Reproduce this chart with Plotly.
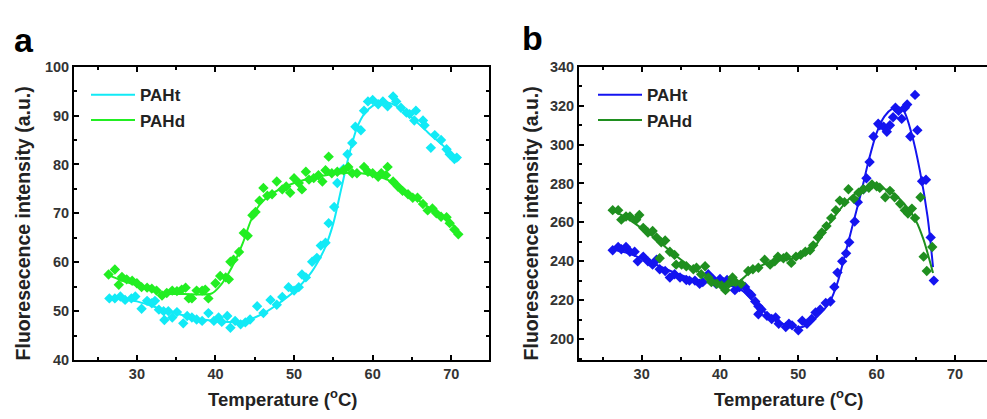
import plotly.graph_objects as go

# ---------------- Panel a data ----------------
a_t_T = [26.5, 27.2, 27.9, 28.5, 29.3, 29.8, 30.6, 31.3, 31.9, 32.3, 32.8, 33.4, 33.5, 34.0, 34.5,
         35.1, 35.9, 36.4, 37.0, 37.6, 38.3, 39.1, 39.8, 40.4, 40.8, 41.5, 41.9, 42.5, 43.2, 43.8,
         44.4, 45.3, 46.1, 47.0, 47.8, 48.5, 49.3, 50.0, 50.6, 51.0, 51.5, 52.3, 52.9, 53.4, 54.0,
         54.4, 55.1, 55.5, 56.3, 56.8, 57.4, 57.8, 58.5, 58.9, 59.4, 60.0, 60.7, 61.3, 61.9, 62.6,
         63.0, 63.6, 64.3, 64.7, 65.3, 65.5, 66.4, 66.6, 67.4, 67.9, 68.7, 69.4, 69.8, 70.4, 70.7]
a_t_I = [52.6, 52.6, 53.0, 52.3, 52.6, 53.0, 50.5, 52.1, 51.6, 52.1, 50.3, 50.0, 48.2, 50.0, 48.7,
         49.8, 47.5, 49.0, 48.7, 48.3, 48.0, 49.6, 48.0, 48.7, 47.8, 49.0, 46.6, 48.0, 47.3, 47.7,
         48.3, 51.0, 49.6, 52.3, 51.3, 52.9, 54.9, 54.2, 54.9, 57.5, 56.9, 60.1, 60.9, 63.4, 64.0,
         68.0, 71.3, 76.2, 79.1, 82.1, 84.4, 87.7, 87.0, 91.0, 92.9, 93.2, 92.3, 92.9, 91.9, 93.9,
         92.9, 91.6, 90.6, 90.3, 89.0, 91.0, 89.0, 88.0, 83.4, 86.0, 85.0, 83.1, 82.1, 81.1, 81.4]
a_t_fitT = [26.5, 28, 30, 32, 35, 38, 40, 42, 43.5, 45, 46.5, 48, 50, 52, 53, 54, 55, 56, 57,
            58, 59, 60, 61, 62, 63, 64, 65, 67, 69, 71]
a_t_fitI = [52.8, 52.5, 52.0, 51.0, 49.5, 48.4, 48.0, 47.8, 47.9, 48.7, 49.9, 51.5, 54.0, 57.5,
            60.0, 63.2, 68.0, 75.0, 82.0, 87.5, 90.5, 92.0, 92.6, 92.6, 92.0, 91.0, 89.6, 86.6,
            83.8, 80.8]

a_d_T = [26.4, 27.2, 27.7, 28.1, 28.7, 29.4, 30.0, 30.6, 31.3, 31.9, 32.5, 33.2, 33.8, 34.5, 35.1,
         35.7, 36.2, 36.6, 37.0, 37.6, 38.3, 38.7, 39.1, 40.0, 40.6, 41.3, 41.7, 41.9, 42.3, 43.0,
         43.6, 44.1, 44.7, 45.1, 45.6, 46.1, 46.6, 47.2, 47.8, 48.5, 49.0, 49.5, 50.0, 50.6, 51.0,
         51.5, 51.9, 52.5, 53.1, 53.6, 54.0, 54.4, 54.8, 55.5, 56.3, 56.9, 57.4, 58.0, 58.9, 59.4,
         60.0, 60.7, 61.1, 61.7, 61.9, 62.6, 63.2, 63.8, 64.5, 65.1, 65.7, 66.4, 67.0, 67.6, 68.1,
         68.7, 69.4, 69.8, 70.4, 70.9]
a_d_I = [57.5, 58.5, 55.4, 57.0, 56.5, 56.2, 55.7, 54.9, 54.8, 54.6, 54.2, 53.2, 53.7, 54.2, 54.1,
         54.4, 54.8, 52.6, 52.6, 54.2, 54.2, 54.4, 52.6, 55.7, 57.2, 56.9, 56.5, 60.1, 60.5, 62.1,
         66.0, 65.4, 69.6, 70.3, 72.6, 75.2, 73.6, 73.9, 76.5, 74.9, 75.5, 74.2, 77.2, 76.2, 74.9,
         78.5, 76.9, 77.2, 77.8, 76.5, 78.8, 81.6, 78.2, 78.5, 78.8, 79.5, 78.2, 78.2, 79.5, 78.5,
         78.2, 77.5, 78.2, 77.8, 79.5, 76.5, 75.5, 74.6, 73.9, 73.2, 73.2, 71.9, 70.6, 71.0, 70.0,
         69.3, 69.2, 68.0, 66.7, 65.7]
a_d_fitT = [26.5, 28, 30, 32, 33.5, 36, 39.5, 40.5, 41.5, 42.5, 43.5, 44.5, 45.5, 47, 50, 53,
            55, 57, 58, 60, 62, 64, 66, 68, 70, 71]
a_d_fitI = [57.3, 56.3, 55.3, 54.2, 53.6, 53.5, 53.6, 55.0, 57.3, 60.3, 64.0, 68.5, 71.5, 73.8,
            76.2, 77.5, 78.0, 78.3, 78.3, 77.8, 76.8, 74.8, 72.5, 70.2, 68.0, 66.2]

# ---------------- Panel b data ----------------
b_t_T = [26.3, 27.0, 27.4, 28.0, 28.5, 29.1, 29.5, 30.2, 30.8, 31.4, 31.9, 32.3, 33.0, 33.6, 34.2,
         34.9, 35.7, 36.1, 36.8, 37.4, 37.8, 38.5, 39.1, 39.5, 40.0, 40.4, 40.9, 41.3, 41.9, 42.5,
         43.2, 43.6, 44.0, 44.5, 44.9, 45.3, 44.9, 46.0, 46.6, 47.1, 47.5, 48.4, 48.8, 49.2, 50.0,
         50.5, 51.1, 51.7, 52.2, 52.8, 53.5, 54.1, 54.6, 55.0, 55.6, 56.1, 56.5, 57.2, 57.6, 58.3,
         58.7, 59.1, 59.6, 60.2, 60.4, 60.9, 61.3, 61.7, 62.1, 62.4, 62.8, 63.2, 63.6, 63.9, 64.3,
         64.9, 65.2, 65.8, 66.3, 66.9, 67.3]
b_t_I = [245.7, 247.4, 246.2, 247.4, 244.9, 244.9, 240.0, 242.4, 240.0, 238.3, 240.8, 235.9, 235.0,
         231.7, 233.4, 231.7, 230.4, 230.1, 230.1, 228.5, 229.3, 233.4, 230.9, 228.5, 230.9, 229.3,
         230.4, 229.3, 225.2, 226.8, 226.8, 224.3, 222.7, 219.4, 216.9, 215.3, 212.8, 212.0, 210.4,
         211.2, 207.9, 206.3, 207.9, 207.1, 204.6, 209.5, 207.9, 210.4, 213.7, 215.3, 218.6, 219.4,
         226.8, 234.2, 240.0, 244.1, 249.8, 260.5, 270.4, 277.0, 282.7, 291.0, 304.1, 310.7, 309.9,
         309.1, 306.6, 309.9, 314.0, 318.9, 317.3, 313.2, 318.9, 320.6, 304.1, 325.5, 307.4, 281.1,
         281.9, 252.3, 230.1]
b_t_fitT = [26.3, 28, 30, 32, 34, 36, 38, 40, 42, 43, 44, 45, 46, 47, 48, 49, 50, 51, 52, 53, 54,
            55, 56, 57, 58, 59, 60, 61, 62, 62.7, 63.5, 64.5, 65.5, 66.5, 67.2]
b_t_fitI = [246.5, 244.5, 241.5, 238.0, 234.5, 231.5, 229.5, 228.3, 226.8, 224.5, 220.5, 216.5,
            213.0, 210.2, 208.0, 206.6, 206.0, 207.0, 210.0, 214.0, 219.0, 229.0, 244.0, 259.5,
            275.0, 292.0, 306.0, 314.5, 318.5, 319.2, 317.0, 305.0, 287.0, 263.0, 237.0]

b_d_T = [26.3, 27.0, 27.4, 28.0, 28.5, 29.3, 29.7, 30.2, 30.8, 31.4, 31.9, 32.5, 33.0, 32.3, 33.6,
         34.2, 34.4, 35.1, 35.7, 36.6, 37.0, 37.6, 38.1, 38.5, 38.9, 39.6, 40.2, 40.7, 41.1, 41.6,
         42.0, 42.7, 43.6, 44.2, 44.9, 45.7, 46.4, 47.0, 47.4, 48.1, 48.5, 49.1, 49.7, 50.3, 50.9,
         51.5, 51.9, 52.5, 53.0, 53.6, 54.2, 54.8, 55.3, 55.9, 56.4, 57.1, 57.7, 58.3, 59.0, 59.4,
         60.0, 60.4, 61.1, 61.7, 62.3, 63.0, 63.6, 64.0, 64.5, 64.9, 65.6, 66.0, 66.4, 67.1]
b_d_I = [266.3, 266.3, 261.4, 263.0, 263.0, 261.4, 263.8, 257.2, 254.8, 255.6, 252.3, 249.8, 250.7,
         241.6, 244.9, 243.3, 238.3, 238.3, 237.5, 235.9, 236.7, 233.4, 237.5, 231.7, 229.3, 228.5,
         227.6, 225.2, 228.5, 231.7, 229.3, 228.5, 235.0, 235.9, 236.7, 240.8, 238.3, 240.0, 242.4,
         241.6, 242.4, 239.2, 242.4, 243.3, 244.9, 245.7, 248.2, 252.3, 254.8, 258.1, 262.2, 266.3,
         271.2, 270.4, 277.0, 272.1, 275.3, 277.0, 277.8, 279.5, 278.6, 277.8, 272.9, 276.2, 272.9,
         269.6, 266.3, 264.6, 267.1, 262.2, 272.9, 242.4, 235.0, 247.4]
b_d_fitT = [26.3, 28, 30, 32, 34, 36, 38, 40, 41, 42, 43, 44, 46, 48, 50, 51, 52, 53, 54, 55, 56,
            57, 58, 59, 60, 61, 62, 63, 64, 65, 66, 67, 67.2]
b_d_fitI = [266.0, 262.5, 257.0, 251.0, 244.0, 238.0, 233.0, 228.8, 227.5, 228.3, 231.5, 235.0,
            239.0, 240.7, 242.0, 243.6, 247.0, 253.0, 259.5, 265.0, 270.0, 274.0, 276.6, 278.0,
            278.2, 277.2, 275.2, 271.8, 267.2, 261.0, 251.0, 237.0, 234.0]

legend_names = ["PAHt", "PAHd"]
x_ticks = [30, 40, 50, 60, 70]
a_y_ticks = [40, 50, 60, 70, 80, 90, 100]
b_y_ticks = [200, 220, 240, 260, 280, 300, 320, 340]

C_CYAN = "#12EAF6"
C_LIME = "#22EE22"
C_BLUE = "#1414F0"
C_DGREEN = "#1F8F1F"

W, H = 987, 419
FONT = "Liberation Sans"

fig = go.Figure()

def add_series(T, I, fT, fI, color, name, xa, ya, leg):
    fig.add_trace(go.Scatter(x=T, y=I, mode="markers", xaxis=xa, yaxis=ya,
                             marker=dict(symbol="diamond", size=8, color=color),
                             showlegend=False, hoverinfo="skip"))
    fig.add_trace(go.Scatter(x=fT, y=fI, mode="lines", xaxis=xa, yaxis=ya, name=name,
                             line=dict(color=color, width=2, shape="spline", smoothing=0.8),
                             legend=leg))

add_series(a_t_T, a_t_I, a_t_fitT, a_t_fitI, C_CYAN, legend_names[0], "x", "y", "legend")
add_series(a_d_T, a_d_I, a_d_fitT, a_d_fitI, C_LIME, legend_names[1], "x", "y", "legend")
add_series(b_t_T, b_t_I, b_t_fitT, b_t_fitI, C_BLUE, legend_names[0], "x2", "y2", "legend2")
add_series(b_d_T, b_d_I, b_d_fitT, b_d_fitI, C_DGREEN, legend_names[1], "x2", "y2", "legend2")

tickfont = dict(family=FONT, size=14.5, color="#333333", weight="bold")

def ax_common(mirror):
    return dict(showline=True, linewidth=2, linecolor="black", mirror=mirror,
                ticks="inside", ticklen=5, tickwidth=2, tickcolor="black",
                showgrid=False, zeroline=False, tickfont=tickfont,
                minor=dict(ticks="inside", ticklen=3, tickwidth=2, tickcolor="black", showgrid=False))

ybot = 1 - 366 / H
ytop = 1 - 61 / H

xa = ax_common("ticks"); xa.update(domain=[74 / W, 489 / W], range=[22, 74.8], tickvals=x_ticks,
                                   minor_dtick=5, minor_tick0=25, anchor="y")
ya = ax_common("ticks"); ya.update(domain=[ybot, ytop], range=[40, 100], tickvals=a_y_ticks,
                                   minor_dtick=5, minor_tick0=45, anchor="x")
xb = ax_common("ticks"); xb.update(domain=[579 / W, 1.0], range=[22, 74.09], tickvals=x_ticks,
                                   minor_dtick=5, minor_tick0=25, anchor="y2")
yb = ax_common(False); yb.update(domain=[ybot, ytop], range=[189.3, 340], tickvals=b_y_ticks,
                                 minor_dtick=10, minor_tick0=190, anchor="x2")

legfont = dict(family=FONT, size=17, color="#222222", weight="bold")
fig.update_layout(
    width=W, height=H, margin=dict(l=0, r=0, t=0, b=0),
    paper_bgcolor="white", plot_bgcolor="white",
    xaxis=xa, yaxis=ya, xaxis2=xb, yaxis2=yb,
    legend=dict(x=86 / W, y=1 - 72 / H, xanchor="left", yanchor="top", font=legfont,
                bgcolor="rgba(0,0,0,0)", tracegroupgap=0, itemwidth=44),
    legend2=dict(x=593 / W, y=1 - 72 / H, xanchor="left", yanchor="top", font=legfont,
                 bgcolor="rgba(0,0,0,0)", tracegroupgap=0, itemwidth=44),
)

title_font = dict(family=FONT, size=19.5, color="#222222", weight="bold")
xtitle_font = dict(family=FONT, size=18.5, color="#222222", weight="bold")
ycen = 1 - 224 / H
annots = [
    dict(text="a", x=24 / W, y=1 - 33 / H, font=dict(family=FONT, size=34, color="black", weight="bold")),
    dict(text="b", x=532 / W, y=1 - 31 / H, font=dict(family=FONT, size=34, color="black", weight="bold")),
    dict(text="Fluoresecence intensity (a.u.)", x=23 / W, y=ycen, textangle=-90, font=title_font),
    dict(text="Fluoresecence intensity (a.u.)", x=531 / W, y=ycen, textangle=-90, font=title_font),
    dict(text="Temperature (<sup>o</sup>C)", x=282 / W, y=1 - 406 / H, font=xtitle_font),
    dict(text="Temperature (<sup>o</sup>C)", x=788 / W, y=1 - 406 / H, font=xtitle_font),
]
for a in annots:
    fig.add_annotation(xref="paper", yref="paper", showarrow=False, xanchor="center", yanchor="middle", **a)

fig.write_html("out.html", config={"displayModeBar": False},
               post_script="document.body.style.margin='0';document.body.style.overflow='hidden';")
